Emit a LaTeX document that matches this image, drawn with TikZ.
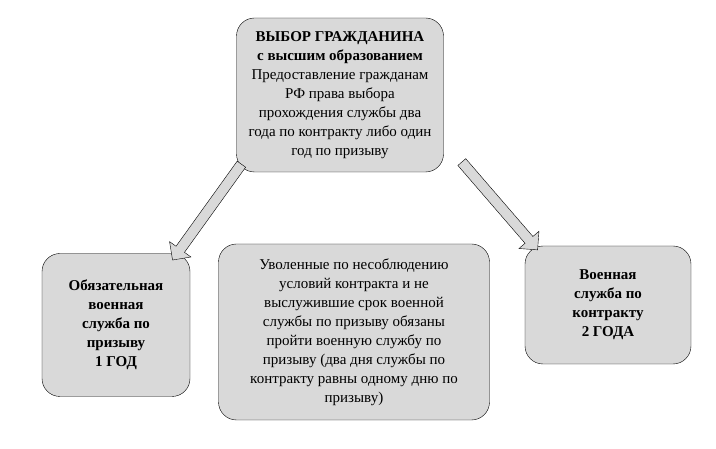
\documentclass[tikz,border=0pt]{standalone}
\usepackage{fontspec}
\setmainfont{Liberation Serif}
\definecolor{boxgray}{RGB}{217,217,217}
\usetikzlibrary{shapes.arrows}
\begin{document}
\begin{tikzpicture}[x=1pt, y=-1pt,
    card/.style={rectangle, draw, rounded corners=18pt, fill=boxgray, align=center, font=\fontsize{15}{19}\selectfont, inner sep=4pt},
    bigarrow/.style={single arrow, draw, fill=boxgray, text height=0pt, text depth=0pt, inner xsep=0pt, inner ysep=5pt, minimum width=26pt, single arrow head extend=8pt, minimum height=#1}
]
\useasboundingbox (0,0) rectangle (716,449);

\node[card, minimum width=207pt, minimum height=154pt] (choice) at (340,95)
  {\textbf{ВЫБОР ГРАЖДАНИНА}\\\textbf{с высшим образованием}\\Предоставление гражданам\\РФ права выбора\\прохождения службы два\\года по контракту либо один\\год по призыву};
\node[card, minimum width=148pt, minimum height=143pt] (draft) at (116,325)
  {\textbf{Обязательная}\\\textbf{военная}\\\textbf{служба по}\\\textbf{призыву}\\\textbf{1 ГОД}};
\node[card, minimum width=271pt, minimum height=176pt] (dismissed) at (354,332)
  {Уволенные по несоблюдению\\условий контракта и не\\выслужившие срок военной\\службы по призыву обязаны\\пройти военную службу по\\призыву (два дня службы по\\контракту равны одному дню по\\призыву)};
\node[card, minimum width=166pt, minimum height=118pt] (contract) at (608,305)
  {\textbf{Военная}\\\textbf{служба по}\\\textbf{контракту}\\\textbf{2 ГОДА}};

\node[bigarrow=118pt, rotate=234.3] (toleft) at (208.5,210) {};
\node[bigarrow=116pt, rotate=-49.2] (toright) at (498,204) {};
\end{tikzpicture}
\end{document}
